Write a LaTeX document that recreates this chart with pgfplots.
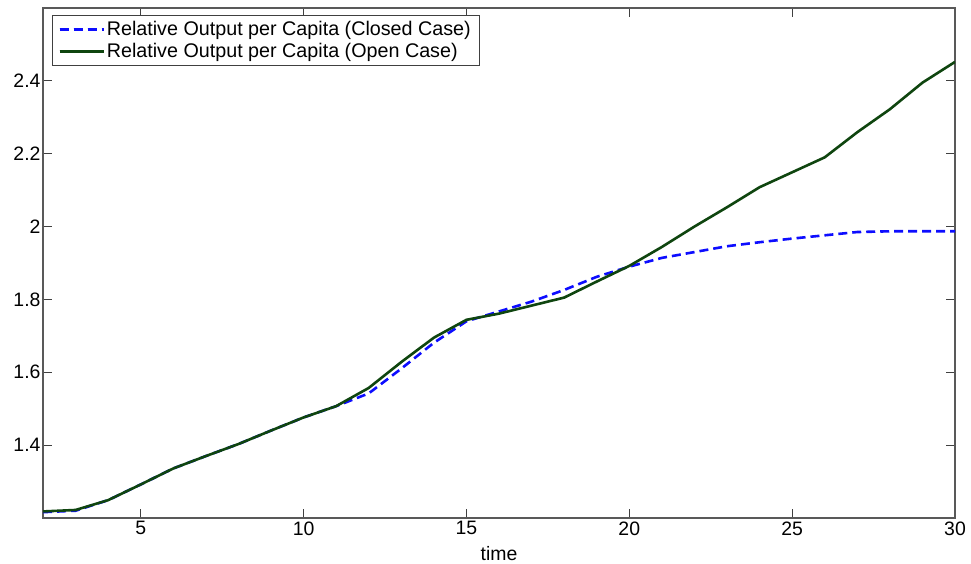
\documentclass[border=0pt]{standalone}
\usepackage{fontspec}
\setmainfont{Liberation Sans}
\usepackage{pgfplots}
\pgfplotsset{compat=1.18}
\definecolor{opengreen}{rgb}{0.06,0.27,0.06}
\definecolor{closedblue}{rgb}{0.05,0.05,1}
\pgfplotstableread{
x closed open
2 1.216 1.218
3 1.220 1.222
4 1.249 1.249
5 1.292 1.292
6 1.336 1.336
7 1.370 1.370
8 1.403 1.403
9 1.440 1.440
10 1.476 1.476
11 1.507 1.507
12 1.542 1.557
13 1.610 1.628
14 1.681 1.695
15 1.740 1.744
16 1.767 1.761
17 1.794 1.783
18 1.826 1.805
19 1.862 1.849
20 1.890 1.892
21 1.914 1.944
22 1.930 2.000
23 1.946 2.053
24 1.957 2.108
25 1.967 2.149
26 1.976 2.190
27 1.985 2.259
28 1.987 2.322
29 1.987 2.395
30 1.987 2.452
}\datatable
\begin{document}
\begin{tikzpicture}[x=1bp,y=1bp]
\useasboundingbox (0,0) rectangle (971,564);
\begin{axis}[
  at={(43bp,46bp)}, anchor=south west,
  width=912bp, height=510bp, scale only axis,
  xmin=2, xmax=30, ymin=1.2, ymax=2.6,
  xtick={5,10,15,20,25,30},
  ytick={1.4,1.6,1.8,2,2.2,2.4},
  tick align=inside, major tick length=9bp,
  tick style={black!75, line width=0.8bp},
  axis line style={black!65, line width=1.2bp},
  /pgf/number format/assume math mode=true,
  tick label style={font=\fontsize{19.5}{22}\selectfont},
  yticklabel style={xshift=1bp},
  xlabel={time},
  xlabel style={at={(axis description cs:0.5,-0.055)}, anchor=north, inner sep=0pt, font=\fontsize{19.5}{22}\selectfont},
  legend cell align=left,
  legend style={at={(axis description cs:0.0099,0.986)}, anchor=north west,
    draw=black!75, inner xsep=6bp, inner ysep=4bp, row sep=2.5bp,
    font=\fontsize{19.8}{22}\selectfont},
  legend image code/.code={\draw[#1] (0bp,0bp) -- (35bp,0bp); \path (0bp,0bp) -- (44bp,0bp);},
]
\addplot[closedblue, line width=2.6bp, dash pattern=on 9bp off 5bp] table[x=x, y=closed] {\datatable};
\addlegendentry{Relative Output per Capita (Closed Case)\hspace{9bp}}
\addplot[opengreen, line width=2.6bp] table[x=x, y=open] {\datatable};
\addlegendentry{Relative Output per Capita (Open Case)}
\end{axis}
\end{tikzpicture}
\end{document}
